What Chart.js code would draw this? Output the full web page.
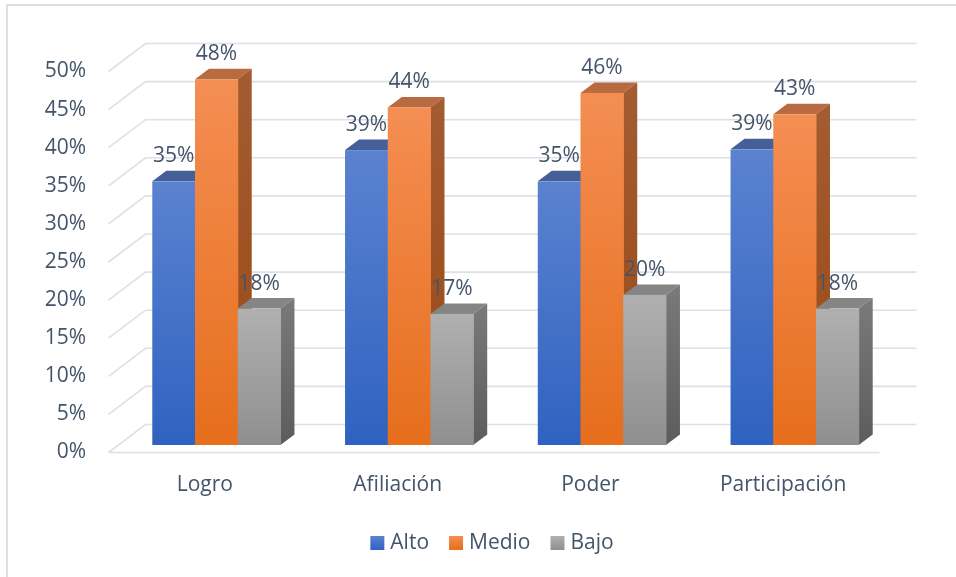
<!DOCTYPE html>
<html>
<head>
<meta charset="utf-8">
<script src="https://cdn.jsdelivr.net/npm/chart.js@4.4.1/dist/chart.umd.min.js"></script>
<style>
  html, body { margin: 0; padding: 0; background: #fff; }
  #wrap { width: 956px; height: 577px; }
</style>
</head>
<body>
<div id="wrap"><canvas id="chart" width="956" height="577"></canvas></div>
<script>
// datos (porcentajes)
const categories = ['Logro', 'Afiliación', 'Poder', 'Participación'];
const seriesNames = ['Alto', 'Medio', 'Bajo'];
const alto = [34.6, 38.7, 34.6, 38.8];
const medio = [48.0, 44.3, 46.2, 43.4];
const bajo = [17.9, 17.2, 19.7, 17.9];
const yMax = 50;
const yStep = 5;

const TEXT = '#44546A';
const GRID = '#DDE0E5';
const FONT = '"Open Sans", sans-serif';
const FSIZE = 21;

// profundidad de las barras y desplazamiento de las paredes
const BAR_DX = 14, BAR_DY = -10.5;
const FRONT_DX = -11.5, FRONT_DY = 7.5;
const BACK_DX = 25.5, BACK_DY = -20.5;

const shades = [
  { front: ['#5B82D0', '#2F62C0'], side: ['#3E5E9E', '#27488C'], top: '#465F99' },
  { front: ['#F48E53', '#E66E1C'], side: ['#A35B30', '#9A4914'], top: '#B86B40' },
  { front: ['#B0B0B0', '#8F8F8F'], side: ['#787878', '#5C5C5C'], top: '#858585' }
];

const wallsPlugin = {
  id: 'walls',
  beforeDraw(chart) {
    const ctx = chart.ctx;
    ctx.save();
    ctx.strokeStyle = '#DCDFE4';
    ctx.lineWidth = 2;
    ctx.beginPath();
    ctx.moveTo(7, 577);
    ctx.lineTo(7, 5);
    ctx.lineTo(956, 5);
    ctx.stroke();
    ctx.restore();
  },
  beforeDatasetsDraw(chart) {
    const ctx = chart.ctx;
    const area = chart.chartArea;
    const y = chart.scales.y;
    ctx.save();
    ctx.strokeStyle = GRID;
    ctx.lineWidth = 1.6;
    for (let v = 0; v <= yMax; v += yStep) {
      const py = y.getPixelForValue(v);
      ctx.beginPath();
      ctx.moveTo(area.left + FRONT_DX, py + FRONT_DY);
      ctx.lineTo(area.left + BACK_DX, py + BACK_DY);
      ctx.lineTo(area.right + BACK_DX, py + BACK_DY);
      ctx.stroke();
    }
    const p0 = y.getPixelForValue(0);
    ctx.beginPath();
    ctx.moveTo(area.left + FRONT_DX, p0 + FRONT_DY);
    ctx.lineTo(area.right + FRONT_DX, p0 + FRONT_DY);
    ctx.stroke();
    ctx.restore();
  }
};

const bars3dPlugin = {
  id: 'bars3d',
  afterDatasetsDraw(chart) {
    const ctx = chart.ctx;
    const datasets = chart.data.datasets;
    const labelsToDraw = [];
    ctx.save();
    for (let i = 0; i < chart.data.labels.length; i++) {
      datasets.forEach((ds, d) => {
        const el = chart.getDatasetMeta(d).data[i];
        const { x, y, base, width } = el.getProps(['x', 'y', 'base', 'width'], true);
        const l = x - width / 2, r = x + width / 2;
        const sh = shades[d];

        ctx.fillStyle = sh.top;
        ctx.beginPath();
        ctx.moveTo(l, y);
        ctx.lineTo(l + BAR_DX, y + BAR_DY);
        ctx.lineTo(r + BAR_DX, y + BAR_DY);
        ctx.lineTo(r, y);
        ctx.closePath();
        ctx.fill();

        const gs = ctx.createLinearGradient(0, y, 0, base);
        gs.addColorStop(0, sh.side[0]);
        gs.addColorStop(1, sh.side[1]);
        ctx.fillStyle = gs;
        ctx.beginPath();
        ctx.moveTo(r, y);
        ctx.lineTo(r + BAR_DX, y + BAR_DY);
        ctx.lineTo(r + BAR_DX, base + BAR_DY);
        ctx.lineTo(r, base);
        ctx.closePath();
        ctx.fill();

        const gf = ctx.createLinearGradient(0, y, 0, base);
        gf.addColorStop(0, sh.front[0]);
        gf.addColorStop(1, sh.front[1]);
        ctx.fillStyle = gf;
        ctx.fillRect(l, y, width + 0.5, base - y);

        labelsToDraw.push({ x: x, y: y, v: ds.data[i] });
      });
    }
    ctx.fillStyle = TEXT;
    ctx.font = FSIZE + 'px ' + FONT;
    ctx.textAlign = 'center';
    ctx.textBaseline = 'middle';
    labelsToDraw.forEach(lb => {
      ctx.fillText(Math.round(lb.v) + '%', lb.x, lb.y - 25);
    });
    ctx.restore();
  }
};

const legendPlugin = {
  id: 'legend3d',
  afterDraw(chart) {
    const ctx = chart.ctx;
    ctx.save();
    ctx.font = FSIZE + 'px ' + FONT;
    const box = 14, gapText = 6, gapItem = 20;
    const widths = seriesNames.map(s => ctx.measureText(s).width);
    const total = widths.reduce((a, b) => a + b, 0) + seriesNames.length * (box + gapText) + (seriesNames.length - 1) * gapItem;
    let x = 492 - total / 2;
    const cy = 543;
    seriesNames.forEach((s, k) => {
      const g = ctx.createLinearGradient(0, cy - box / 2, 0, cy + box / 2);
      g.addColorStop(0, shades[k].front[0]);
      g.addColorStop(1, shades[k].front[1]);
      ctx.fillStyle = g;
      ctx.fillRect(x, cy - box / 2, box, box);
      x += box + gapText;
      ctx.fillStyle = TEXT;
      ctx.textAlign = 'left';
      ctx.textBaseline = 'middle';
      ctx.fillText(s, x, cy);
      x += widths[k] + gapItem;
    });
    ctx.restore();
  }
};

const clear = 'rgba(0,0,0,0)';

new Chart(document.getElementById('chart').getContext('2d'), {
  type: 'bar',
  data: {
    labels: categories,
    datasets: [
      { label: seriesNames[0], data: alto, backgroundColor: clear, borderWidth: 0 },
      { label: seriesNames[1], data: medio, backgroundColor: clear, borderWidth: 0 },
      { label: seriesNames[2], data: bajo, backgroundColor: clear, borderWidth: 0 }
    ]
  },
  options: {
    responsive: false,
    animation: false,
    layout: {
      padding: { left: 0, right: 65, top: 64, bottom: 72 }
    },
    datasets: {
      bar: { categoryPercentage: 0.665, barPercentage: 1 }
    },
    plugins: {
      legend: { display: false },
      tooltip: { enabled: false }
    },
    scales: {
      x: {
        grid: { display: false, drawTicks: false },
        border: { display: false },
        afterFit: (scale) => { scale.height = 60; },
        ticks: {
          color: TEXT,
          font: { family: FONT, size: FSIZE },
          labelOffset: FRONT_DX,
          padding: 27,
          maxRotation: 0
        }
      },
      y: {
        min: 0,
        max: yMax,
        grid: { display: false, drawTicks: false },
        border: { display: false },
        afterFit: (scale) => { scale.width = 120; },
        ticks: {
          stepSize: yStep,
          color: TEXT,
          font: { family: FONT, size: FSIZE },
          labelOffset: FRONT_DY,
          padding: 34,
          callback: (v) => v + '%'
        }
      }
    }
  },
  plugins: [wallsPlugin, bars3dPlugin, legendPlugin]
});
</script>
</body>
</html>
